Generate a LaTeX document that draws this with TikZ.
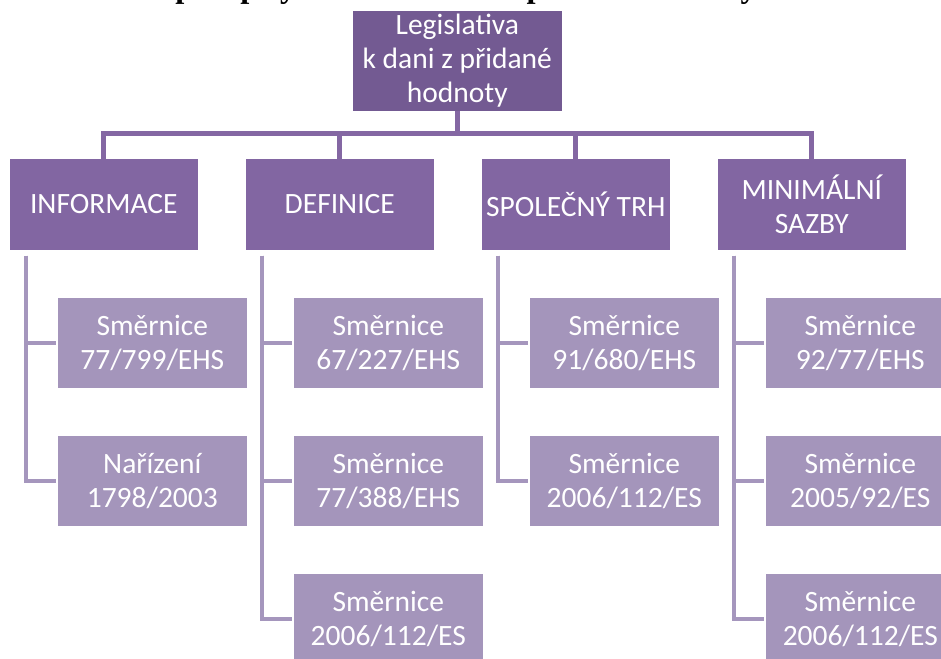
\documentclass[tikz,border=0pt]{standalone}
\usepackage{fontspec}
\setmainfont{Carlito}
\newfontfamily\headfont{Liberation Serif}
\usetikzlibrary{calc}
\definecolor{rootfill}{HTML}{735A92}
\definecolor{groupfill}{HTML}{8266A2}
\definecolor{leaffill}{HTML}{A495BB}
\definecolor{barcol}{HTML}{8467A3}
\definecolor{leafline}{HTML}{A596BD}
\tikzset{
  box/.style={anchor=north west, inner sep=0pt, align=center, text=white,
    font=\fontsize{29.5}{34}\selectfont, draw=white, line width=0.6pt},
  rootbox/.style={box, fill=rootfill, minimum width=210pt, minimum height=101pt},
  groupbox/.style={box, fill=groupfill, minimum width=189pt, minimum height=92pt},
  leafbox/.style={box, fill=leaffill, minimum width=190pt, minimum height=91pt},
  barline/.style={draw=barcol, line width=5pt},
  leafconn/.style={draw=leafline, line width=4.5pt}
}
\begin{document}
\begin{tikzpicture}[x=1pt, y=-1pt]
\useasboundingbox (0,0) rectangle (941,658);
\clip (0,0) rectangle (941,658);

% heading line of the page, cut at the upper edge
\node[anchor=base east, inner sep=0pt, font=\headfont\bfseries\fontsize{32.5}{36}\selectfont]
  (heading) at (757,-2) {Komunitární předpisy v oblasti daně z přidané hodnoty};

% root
\node[rootbox] (root) at (352,10) {Legislativa\\ k dani z přidané\\hodnoty};

% groups
\node[groupbox] (ga) at (9,158)   {INFORMACE};
\node[groupbox] (gb) at (245,158) {DEFINICE};
\node[groupbox] (gc) at (481,158) {SPOLEČNÝ TRH};
\node[groupbox] (gd) at (717,158) {MINIMÁLNÍ\\SAZBY};

% leaves
\node[leafbox] (a1) at (57,297)  {Směrnice\\77/799/EHS};
\node[leafbox] (a2) at (57,435)  {Nařízení\\1798/2003};

\node[leafbox] (b1) at (293,297) {Směrnice\\67/227/EHS};
\node[leafbox] (b2) at (293,435) {Směrnice\\77/388/EHS};
\node[leafbox] (b3) at (293,573) {Směrnice\\2006/112/ES};

\node[leafbox] (c1) at (529,297) {Směrnice\\91/680/EHS};
\node[leafbox] (c2) at (529,435) {Směrnice\\2006/112/ES};

\node[leafbox] (d1) at (765,297) {Směrnice\\92/77/EHS};
\node[leafbox] (d2) at (765,435) {Směrnice\\2005/92/ES};
\node[leafbox] (d3) at (765,573) {Směrnice\\2006/112/ES};

% root to groups
\foreach \g in {ga,gb,gc,gd}
  \draw[barline] ([yshift=1pt]root.south) -- ++(0,23) -| ([yshift=-1pt]\g.north);

% groups to leaves
\foreach \g/\leaves in {ga/{a1,a2}, gb/{b1,b2,b3}, gc/{c1,c2}, gd/{d1,d2,d3}}
  \foreach \l in \leaves
    \draw[leafconn, line join=miter] ($(\g.south west)+(17,5)$) |- ([xshift=-1pt]\l.west);
\end{tikzpicture}
\end{document}
